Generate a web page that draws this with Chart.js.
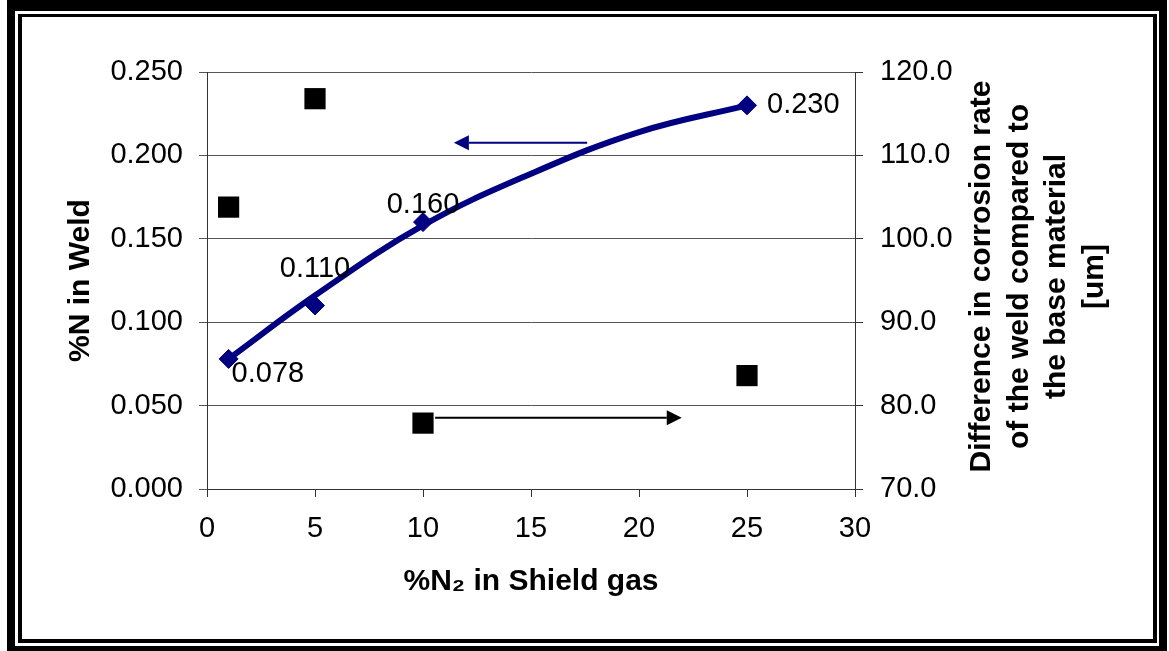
<!DOCTYPE html>
<html>
<head>
<meta charset="utf-8">
<script src="https://cdn.jsdelivr.net/npm/chart.js@4/dist/chart.umd.min.js"></script>
<style>
  html, body { margin: 0; padding: 0; background: #fff; }
  canvas { display: block; }
</style>
</head>
<body>
<canvas id="chart" width="1169" height="651"></canvas>
<script>
// %N2 in the shielding gas
const shieldN2 = [1, 5, 10, 25];
// %N measured in the weld (left axis)
const weldN = [0.078, 0.110, 0.160, 0.230];
// Corrosion-rate difference, weld vs base material [um] (right axis)
const corrosionDiff = [103.8, 116.8, 77.9, 83.6];
// Trend curve through the %N values
const trendX = [1, 5, 10, 15, 20, 25];
const trendY = [0.078, 0.116, 0.158, 0.189, 0.214, 0.230];
// Tick labels
const xTickLabels = ['0', '5', '10', '15', '20', '25', '30'];
const leftTickLabels = ['0.000', '0.050', '0.100', '0.150', '0.200', '0.250'];
const rightTickLabels = ['70.0', '80.0', '90.0', '100.0', '110.0', '120.0'];
// Axis titles
const xTitle = '%N\u2082 in Shield gas';
const leftTitle = '%N in Weld';
const rightTitle = ['Difference in corrosion rate', 'of the weld compared to', 'the base material', '[um]'];
// Arrows pointing each series to its axis (data coordinates)
const arrows = [
  { axis: 'y',  from: [17.6, 0.2076], to: [11.43, 0.2076], color: '#000080' },
  { axis: 'y2', from: [10.56, 78.55], to: [21.98, 78.55], color: '#000000' }
];

// label placement next to each %N point: [dx, dy, align]
const labelPlacement = [[3, 15, 'left'], [0, -37, 'center'], [0, -17, 'center'], [20, 0, 'left']];

const FONT = "'Liberation Sans', Arial, sans-serif";
const NAVY = '#000080';

const framePlugin = {
  id: 'frame',
  beforeDraw(chart) {
    const ctx = chart.ctx;
    ctx.save();
    ctx.fillStyle = '#fff';
    ctx.fillRect(0, 0, chart.width, chart.height);
    ctx.fillStyle = '#000';
    // heavy outer band
    ctx.fillRect(7, 0, 1160, 11);
    ctx.fillRect(7, 646, 1160, 5);
    ctx.fillRect(7, 0, 8, 651);
    ctx.fillRect(1159, 0, 8, 651);
    // thin inner rule
    ctx.fillRect(18, 14, 1139, 3);
    ctx.fillRect(18, 639, 1139, 4);
    ctx.fillRect(18, 14, 4, 629);
    ctx.fillRect(1153, 14, 4, 629);
    ctx.restore();
  }
};

const annotationPlugin = {
  id: 'annotations',
  afterDatasetsDraw(chart) {
    const ctx = chart.ctx;
    const xs = chart.scales.x;
    ctx.save();
    // arrows
    arrows.forEach(a => {
      const ys = chart.scales[a.axis];
      const x1 = xs.getPixelForValue(a.from[0]);
      const y1 = ys.getPixelForValue(a.from[1]);
      const x2 = xs.getPixelForValue(a.to[0]);
      const y2 = ys.getPixelForValue(a.to[1]);
      const dir = Math.sign(x2 - x1);
      const head = 15, half = 7.5;
      ctx.strokeStyle = a.color;
      ctx.fillStyle = a.color;
      ctx.lineWidth = 2;
      ctx.beginPath();
      ctx.moveTo(x1, y1);
      ctx.lineTo(x2 - dir * head, y2);
      ctx.stroke();
      ctx.beginPath();
      ctx.moveTo(x2, y2);
      ctx.lineTo(x2 - dir * head, y2 - half);
      ctx.lineTo(x2 - dir * head, y2 + half);
      ctx.closePath();
      ctx.fill();
    });
    // value labels on the %N points
    const meta = chart.getDatasetMeta(1);
    ctx.fillStyle = '#000';
    ctx.font = '29px ' + FONT;
    ctx.textBaseline = 'middle';
    meta.data.forEach((pt, i) => {
      const [dx, dy, align] = labelPlacement[i];
      ctx.textAlign = align;
      ctx.fillText(weldN[i].toFixed(3), pt.x + dx, pt.y + dy);
    });
    ctx.restore();
  },
  afterDraw(chart) {
    // right-hand axis title, reading bottom to top
    const ctx = chart.ctx;
    const s = chart.scales.y2;
    const area = chart.chartArea;
    const cy = (area.top + area.bottom) / 2 - 4;
    ctx.save();
    ctx.fillStyle = '#000';
    ctx.font = 'bold 30px ' + FONT;
    ctx.textAlign = 'center';
    ctx.textBaseline = 'middle';
    rightTitle.forEach((line, i) => {
      ctx.save();
      ctx.translate(s.left + 127 + i * 37.5, cy);
      ctx.rotate(-Math.PI / 2);
      ctx.fillText(line, 0, 0);
      ctx.restore();
    });
    ctx.restore();
  }
};

const tickFont = { family: FONT, size: 29 };
const titleFont = { family: FONT, size: 30, weight: 'bold' };

new Chart(document.getElementById('chart'), {
  type: 'scatter',
  data: {
    datasets: [
      {
        label: 'trend',
        data: trendX.map((x, i) => ({ x, y: trendY[i] })),
        yAxisID: 'y',
        showLine: true,
        tension: 0.4,
        borderColor: NAVY,
        borderWidth: 6,
        pointRadius: 0,
        order: 3
      },
      {
        label: '%N in Weld',
        data: shieldN2.map((x, i) => ({ x, y: weldN[i] })),
        yAxisID: 'y',
        pointStyle: 'rectRot',
        pointRadius: 9.5,
        backgroundColor: NAVY,
        borderColor: NAVY,
        borderWidth: 1,
        order: 2
      },
      {
        label: 'Difference in corrosion rate',
        data: shieldN2.map((x, i) => ({ x, y: corrosionDiff[i] })),
        yAxisID: 'y2',
        pointStyle: 'rect',
        pointRadius: 15,
        backgroundColor: '#000',
        borderColor: '#000',
        borderWidth: 0,
        order: 1
      }
    ]
  },
  options: {
    responsive: false,
    animation: false,
    devicePixelRatio: 1,
    layout: { padding: { top: 72, left: 0, right: 0, bottom: 0 } },
    plugins: {
      legend: { display: false },
      tooltip: { enabled: false }
    },
    scales: {
      x: {
        type: 'linear',
        min: 0, max: 30,
        afterFit(scale) { scale.height = 162; },
        ticks: {
          stepSize: 5,
          color: '#000',
          font: tickFont,
          padding: 15,
          maxRotation: 0,
          callback: (v, i) => xTickLabels[i]
        },
        grid: { drawOnChartArea: false, drawTicks: true, tickLength: 8, color: '#333' },
        border: { display: true, color: '#333' },
        title: {
          display: true, text: xTitle, color: '#000', font: titleFont,
          padding: { top: 0, bottom: 51 }
        }
      },
      y: {
        type: 'linear',
        position: 'left',
        min: 0, max: 0.25,
        afterFit(scale) { scale.width = 207; },
        ticks: {
          stepSize: 0.05,
          color: '#000',
          font: tickFont,
          padding: 16,
          callback: (v, i) => leftTickLabels[i]
        },
        grid: { color: '#555', tickLength: 8, drawTicks: true },
        border: { display: true, color: '#333' },
        title: {
          display: true, text: leftTitle, color: '#000', font: titleFont,
          padding: { top: 63, bottom: 0 }
        }
      },
      y2: {
        type: 'linear',
        position: 'right',
        min: 70, max: 120,
        afterFit(scale) { scale.width = 314; },
        ticks: {
          stepSize: 10,
          color: '#000',
          font: tickFont,
          padding: 17,
          callback: (v, i) => rightTickLabels[i]
        },
        grid: { drawOnChartArea: false, tickLength: 8, drawTicks: true, color: '#333' },
        border: { display: true, color: '#333' }
      }
    }
  },
  plugins: [framePlugin, annotationPlugin]
});
</script>
</body>
</html>
